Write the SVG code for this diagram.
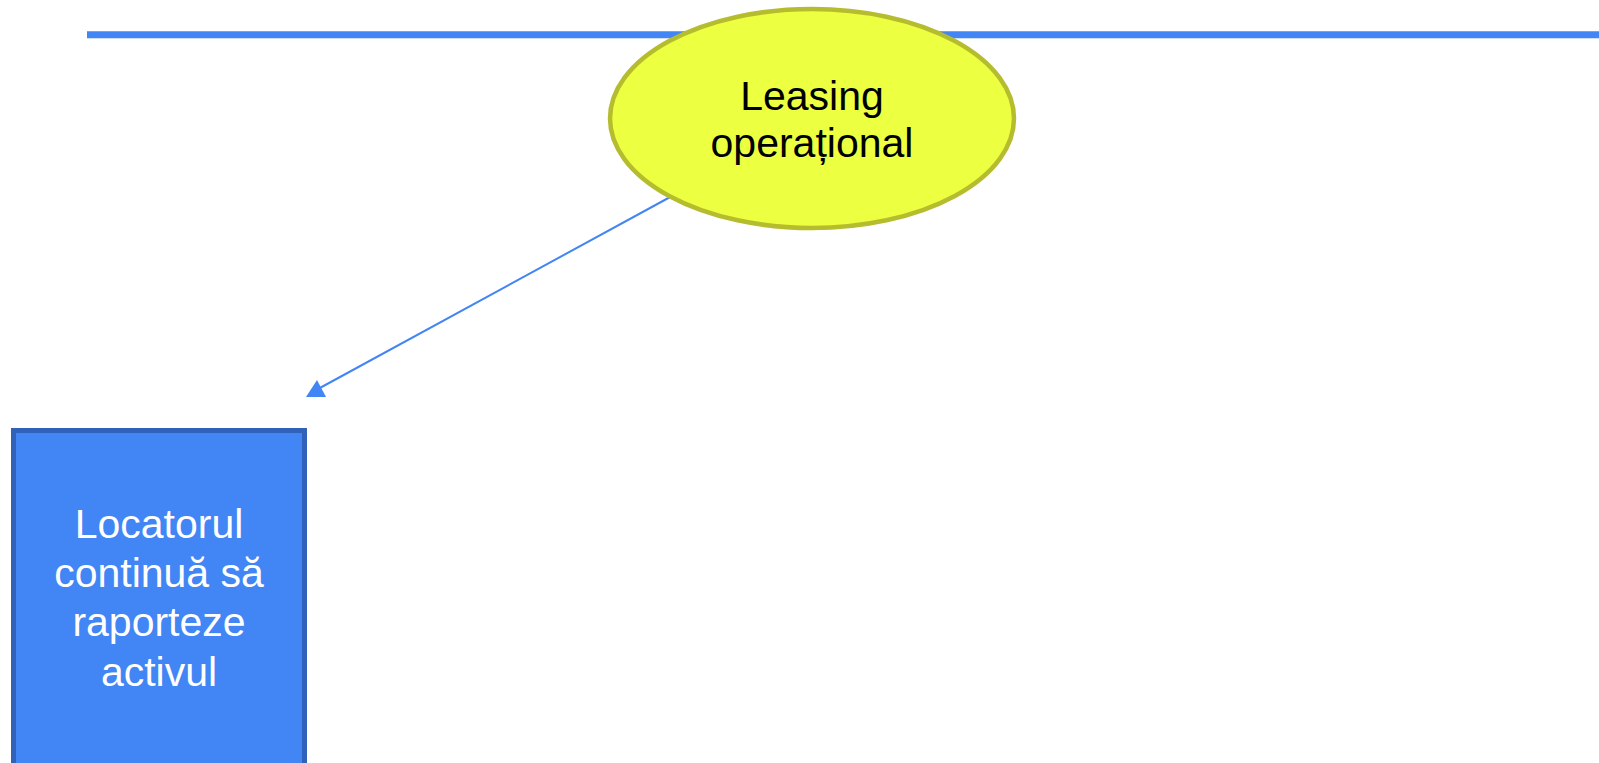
<svg xmlns="http://www.w3.org/2000/svg" width="1599" height="763" viewBox="0 0 1599 763">
<style>
.t{font-family:"Liberation Sans",Arial,sans-serif;font-size:41px;text-anchor:middle}
</style>
<rect width="1599" height="763" fill="#ffffff"/>
<line x1="87" y1="34.7" x2="1599" y2="34.7" stroke="#4285f4" stroke-width="7"/>
<g id="connectors">
<line x1="672" y1="196" x2="318" y2="389" stroke="#4285f4" stroke-width="2"/>
<polygon points="306,397 326,397 317,380" fill="#4285f4"/>
</g>
<g id="leasing">
<ellipse cx="812" cy="118.5" rx="202" ry="109.5" fill="#ecff40" stroke="#b5bd2e" stroke-width="4.5"/>
<text class="t" x="812" y="110" fill="#000000">Leasing</text>
<text class="t" x="812" y="157" fill="#000000">operațional</text>
</g>
<g id="locator">
<rect x="13.5" y="430.5" width="291" height="340" fill="#4285f4" stroke="#2f62b8" stroke-width="5"/>
<text class="t" x="159" y="538" fill="#ffffff">Locatorul</text>
<text class="t" x="159" y="587" fill="#ffffff">continuă să</text>
<text class="t" x="159" y="636" fill="#ffffff">raporteze</text>
<text class="t" x="159" y="686" fill="#ffffff">activul</text>
</g>
</svg>
